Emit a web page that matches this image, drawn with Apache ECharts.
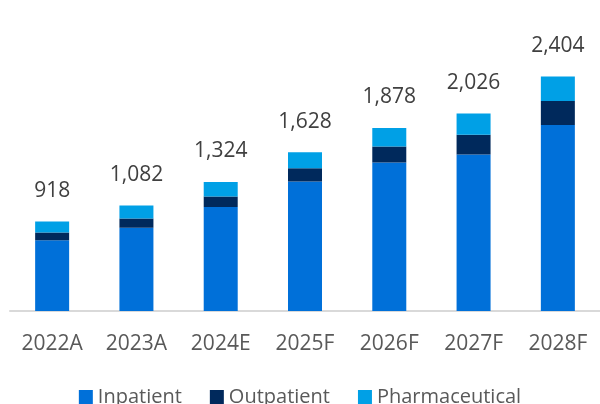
<!DOCTYPE html>
<html>
<head>
<meta charset="utf-8">
<script src="https://cdn.jsdelivr.net/npm/echarts@6/dist/echarts.min.js"></script>
<style>
  html, body { margin: 0; padding: 0; background: #fff; }
  #container { width: 600px; height: 404px; }
</style>
</head>
<body>
<div id="container"></div>
<script>
var years = ['2022A', '2023A', '2024E', '2025F', '2026F', '2027F', '2028F'];
var inpatient = [726, 853, 1066, 1328, 1523, 1605, 1908];
var outpatient = [78, 96, 108, 136, 164, 203, 245];
var pharmaceutical = [114, 133, 150, 164, 191, 218, 251];
var totals = [918, 1082, 1324, 1628, 1878, 2026, 2404];

var myChart = echarts.init(document.getElementById('container'));
var font = '"Open Sans", sans-serif';

var option = {
    backgroundColor: '#ffffff',
    animation: false,
    textStyle: { fontFamily: font },
    legend: {
        left: 'center',
        top: 382,
        itemWidth: 14,
        itemHeight: 14,
        itemGap: 28,
        icon: 'rect',
        textStyle: { color: '#595959', fontSize: 20, fontFamily: font }
    },
    grid: { left: 10, right: -1, top: 38, height: 273 },
    xAxis: {
        type: 'category',
        data: years,
        axisLine: { lineStyle: { color: '#d9d9d9', width: 2 } },
        axisTick: { show: false },
        axisLabel: { color: '#595959', fontSize: 21, margin: 23, fontFamily: font }
    },
    yAxis: {
        type: 'value',
        min: 0,
        max: 2800,
        show: false,
        splitLine: { show: false }
    },
    series: [
        {
            name: 'Inpatient', type: 'bar', stack: 'total', barWidth: 34,
            itemStyle: { color: '#0070d9' },
            data: inpatient
        },
        {
            name: 'Outpatient', type: 'bar', stack: 'total',
            itemStyle: { color: '#00295c' },
            data: outpatient
        },
        {
            name: 'Pharmaceutical', type: 'bar', stack: 'total',
            itemStyle: { color: '#00a0e6' },
            label: {
                show: true,
                position: 'top',
                distance: 20,
                color: '#404040',
                fontSize: 21,
                fontFamily: font,
                formatter: function (p) {
                    return totals[p.dataIndex].toLocaleString('en-US');
                }
            },
            data: pharmaceutical
        }
    ]
};

myChart.setOption(option);
</script>
</body>
</html>
